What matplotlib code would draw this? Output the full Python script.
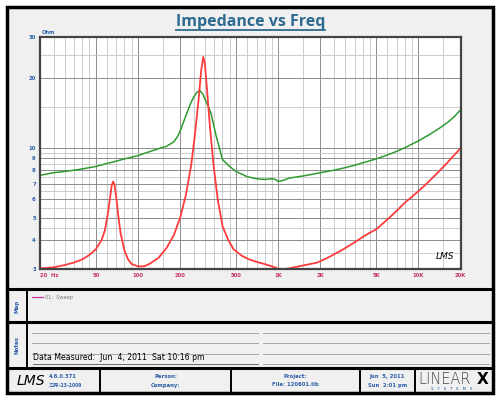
import matplotlib
matplotlib.use("Agg")
import matplotlib.pyplot as plt
from matplotlib.patches import Rectangle
from matplotlib.ticker import NullFormatter

# impedance sweep (red) and second trace (green)
red_freq = [20, 25, 30, 35, 40, 45, 50, 55, 58, 61, 63, 65, 66.5, 68, 70, 72, 75, 80, 85, 90,
            100, 110, 120, 140, 160, 180, 200, 220, 240, 255, 270, 282, 292, 300, 310, 325,
            345, 370, 400, 440, 480, 550, 620, 700, 800, 900, 1000, 1100, 1200, 1400, 1600,
            1900, 2200, 2500, 2800, 3200, 3600, 4000, 4500, 5000, 6000, 7000, 8000, 9000,
            10000, 11000, 12000, 14000, 16000, 18000, 20000]
red_ohm = [3.02, 3.05, 3.12, 3.2, 3.3, 3.45, 3.65, 4.0, 4.4, 5.2, 6.0, 6.9, 7.15, 6.9, 6.1,
           5.2, 4.3, 3.6, 3.3, 3.15, 3.08, 3.08, 3.15, 3.35, 3.7, 4.2, 5.0, 6.3, 8.5, 11.5,
           16.0, 21.5, 24.6, 23.0, 18.0, 12.5, 8.5, 6.0, 4.6, 4.0, 3.65, 3.42, 3.3, 3.22,
           3.15, 3.08, 3.01, 3.0, 3.02, 3.08, 3.13, 3.2, 3.33, 3.47, 3.6, 3.78, 3.95, 4.12,
           4.3, 4.45, 4.9, 5.35, 5.8, 6.15, 6.5, 6.85, 7.2, 7.9, 8.6, 9.3, 9.95]

green_freq = [20, 25, 30, 35, 40, 50, 60, 70, 80, 90, 100, 120, 140, 160, 180, 190, 200,
              220, 240, 260, 275, 290, 310, 330, 360, 400, 450, 500, 600, 700, 800, 900,
              950, 1000, 1100, 1200, 1500, 2000, 2500, 3000, 3500, 4000, 5000, 6000, 7000,
              8000, 10000, 12000, 14000, 16000, 18000, 20000]
green_ohm = [7.6, 7.8, 7.9, 8.0, 8.1, 8.3, 8.55, 8.75, 8.95, 9.1, 9.25, 9.6, 9.9, 10.15,
             10.6, 11.1, 11.8, 13.8, 15.8, 17.2, 17.7, 17.0, 15.5, 14.2, 11.3, 8.9, 8.3,
             7.9, 7.5, 7.35, 7.3, 7.35, 7.3, 7.15, 7.25, 7.4, 7.55, 7.8, 8.0, 8.2, 8.4, 8.6,
             8.95, 9.3, 9.65, 10.0, 10.7, 11.4, 12.1, 12.8, 13.6, 14.6]

x_ticks = [20, 50, 100, 200, 500, 1000, 2000, 5000, 10000, 20000]
x_labels = ["20  Hz", "50", "100", "200", "500", "1K", "2K", "5K", "10K", "20K"]
y_ticks = [3, 4, 5, 6, 7, 8, 9, 10, 20, 30]
y_labels = ["3", "4", "5", "6", "7", "8", "9", "10", "20", "30"]

W, H = 500, 399
BLUE = "#2a5ca8"
PINK = "#c8306a"

fig = plt.figure(figsize=(W / 100, H / 100), dpi=100)

# background layer in pixel coordinates
bg = fig.add_axes([0, 0, 1, 1])
bg.set_xlim(0, W)
bg.set_ylim(H, 0)
bg.axis("off")

bg.add_patch(Rectangle((7, 7), 486, 386, facecolor="#f0f0f0", edgecolor="black", lw=2.5))
# section separators
for y in [289, 322, 368]:
    bg.plot([7, 493], [y, y], color="black", lw=2.2)
bg.plot([27, 27], [289, 368], color="black", lw=1.4)
for x in [100, 231, 360, 415]:
    bg.plot([x, x], [368, 393], color="black", lw=1.4)

# map / notes labels
bg.text(17, 306, "Map", rotation=90, ha="center", va="center", fontsize=4, color=BLUE, fontweight="bold")
bg.text(17, 345, "Notes", rotation=90, ha="center", va="center", fontsize=4, color=BLUE, fontweight="bold")

# legend entry
bg.plot([32, 43], [297, 297], color="#cc3399", lw=0.9)
bg.text(45, 297, "01:  Sweep", fontsize=3.6, color="#777777", va="center")

# notes lines
for y in [333, 343, 354]:
    bg.plot([32, 258], [y, y], color="#999999", lw=0.6)
    bg.plot([263, 489], [y, y], color="#999999", lw=0.6)
bg.plot([263, 489], [364, 364], color="#999999", lw=0.6)
bg.text(33, 362, "Data Measured:  Jun  4, 2011  Sat 10:16 pm", fontsize=5.6, color="black", va="bottom")
bg.plot([33, 258], [364, 364], color="#555555", lw=0.6)

# footer
bg.text(17, 381, "LMS", fontsize=10, style="italic", family="DejaVu Sans", va="center", color="black")
bg.text(49, 376.5, "4.6.0.371", fontsize=3.8, color=BLUE, fontweight="bold", va="center")
bg.text(49, 385, "三月-23-2009", fontsize=3.8, color=BLUE, fontweight="bold", va="center",
        family=["Noto Sans CJK SC", "DejaVu Sans"])
bg.text(165.5, 376.5, "Person:", fontsize=3.8, color=BLUE, fontweight="bold", ha="center", va="center")
bg.text(165.5, 385, "Company:", fontsize=3.8, color=BLUE, fontweight="bold", ha="center", va="center")
bg.text(295.5, 376.5, "Project:", fontsize=3.8, color=BLUE, fontweight="bold", ha="center", va="center")
bg.text(295.5, 385, "File: 120601.lib", fontsize=3.8, color=BLUE, fontweight="bold", ha="center", va="center")
bg.text(387.5, 376.5, "Jun  5, 2011", fontsize=3.8, color=BLUE, fontweight="bold", ha="center", va="center")
bg.text(387.5, 385, "Sun  2:01 pm", fontsize=3.8, color=BLUE, fontweight="bold", ha="center", va="center")
bg.text(418, 379, "LINEAR", fontsize=10.5, color="#444444", fontweight="light", va="center",
        family="DejaVu Sans")
bg.text(477, 379, "X", fontsize=11, color="black", fontweight="bold", va="center")
bg.text(452, 389, "S   Y   S   T   E   M   S", fontsize=3, color=BLUE, ha="center", va="center")

# main plot
ax = fig.add_axes([40 / W, 1 - 269 / H, 420.7 / W, 232 / H])
ax.set_xscale("log")
ax.set_yscale("log")
ax.set_xlim(20, 20000)
ax.set_ylim(3, 30)

x_minor = [m * d for d in [10, 100, 1000, 10000]
           for m in [1, 1.5, 2, 2.5, 3, 3.5, 4, 4.5, 5, 6, 7, 8, 9]]
x_minor = [v for v in x_minor if 20 <= v <= 20000 and v not in x_ticks]
y_minor = [3.5, 4.5, 5.5, 6.5, 7.5, 8.5, 9.5, 15, 25]
ax.set_xticks(x_ticks)
ax.set_xticklabels(x_labels)
ax.set_xticks(x_minor, minor=True)
ax.set_yticks(y_ticks)
ax.set_yticklabels(y_labels)
ax.set_yticks(y_minor, minor=True)
ax.xaxis.set_minor_formatter(NullFormatter())
ax.yaxis.set_minor_formatter(NullFormatter())
ax.tick_params(which="both", length=0)
ax.tick_params(axis="x", labelsize=3.8, labelcolor=PINK, pad=3)
ax.tick_params(axis="y", labelsize=3.8, labelcolor=BLUE, pad=3)
for lab in ax.get_xticklabels() + ax.get_yticklabels():
    lab.set_fontweight("bold")
ax.get_xticklabels()[0].set_horizontalalignment("left")
ax.grid(which="major", color="#8c8c8c", lw=0.7)
ax.grid(which="minor", color="#c4c4c4", lw=0.6)
for s in ax.spines.values():
    s.set_color("#444444")
    s.set_linewidth(1.6)

ax.plot(green_freq, green_ohm, color="#2f9a2f", lw=1.1)
ax.plot(red_freq, red_ohm, color="#ff3b3b", lw=1.3)

ax.text(0.985, 0.035, "LMS", transform=ax.transAxes, ha="right", va="bottom",
        fontsize=6.5, style="italic", family="DejaVu Sans")
ax.text(0.005, 1.01, "Ohm", transform=ax.transAxes, ha="left", va="bottom",
        fontsize=3.8, color=BLUE, fontweight="bold")

# title with underline
title = bg.text(250.5, 22.5, "Impedance vs Freq", ha="center", va="center", fontsize=11.5,
                fontweight="bold", color="#2e6b90", family="Open Sans")
fig.canvas.draw()
bb = title.get_window_extent()
inv = bg.transData.inverted()
(x0, y0), (x1, y1) = inv.transform([[bb.x0, bb.y0], [bb.x1, bb.y1]])
bg.plot([x0, x1], [y0 - 0.5, y0 - 0.5], color="#2e6b90", lw=1.3)

fig.savefig("out.png", dpi=100)
